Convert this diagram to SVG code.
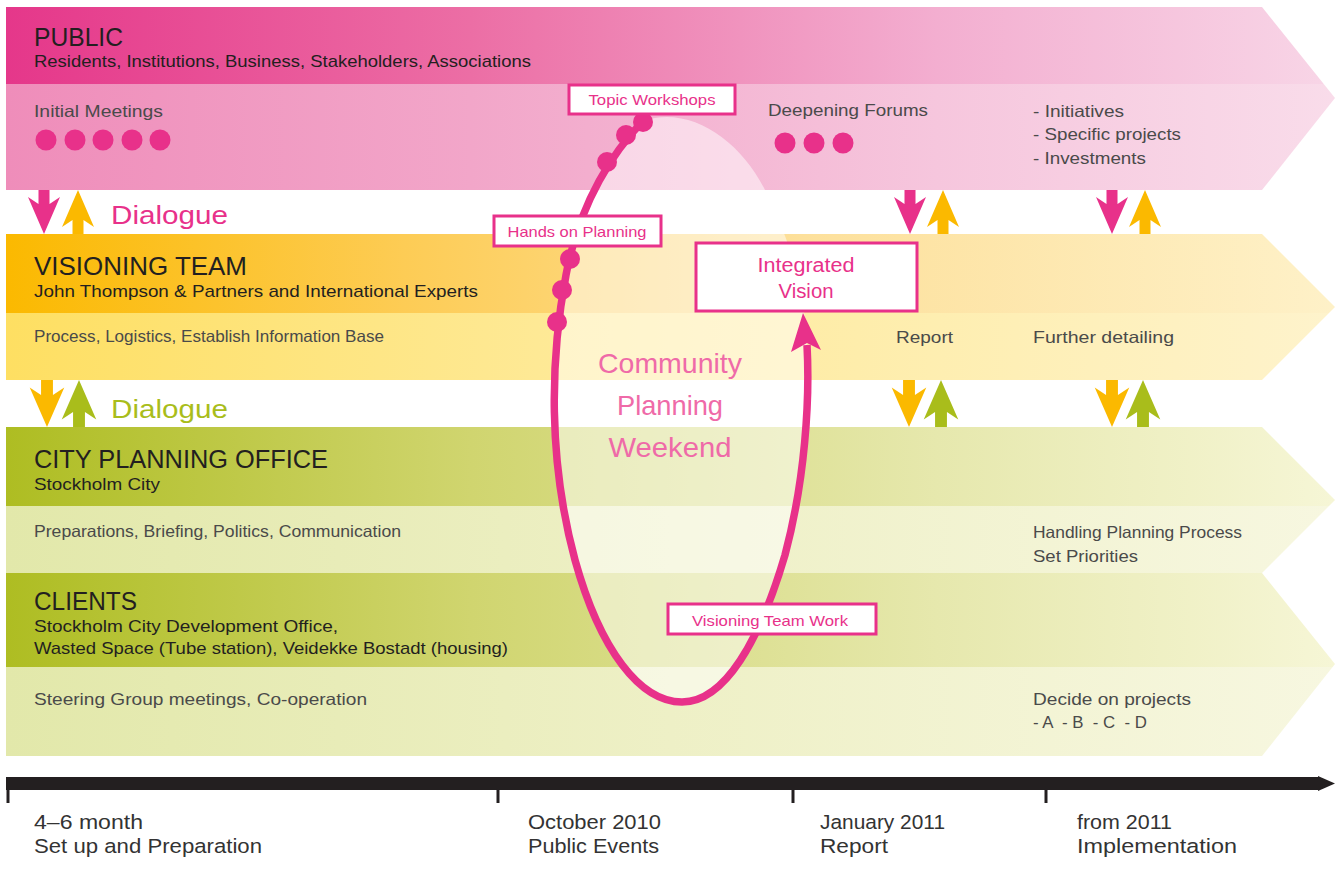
<svg xmlns="http://www.w3.org/2000/svg" width="1335" height="870" viewBox="0 0 1335 870">
<style>
text{font-family:"Liberation Sans",Arial,sans-serif}
.h{font-size:25px;fill:#231f20}
.s{font-size:17px;fill:#231f20}
.c{font-size:16.5px;fill:#4a4a4a}
.dlg{font-size:26px}
.bx{fill:#fff;stroke:#e8318a;stroke-width:3}
.bt{font-size:15px;fill:#e8318a;text-anchor:middle}
.bt.big{font-size:20px}
.tl{font-size:20.5px;fill:#333}
</style>
<defs>
<linearGradient id="pubH" gradientUnits="userSpaceOnUse" x1="6" y1="0" x2="1335" y2="0"><stop offset="0" stop-color="#e5378a"/><stop offset="0.35" stop-color="#ec6ea5"/><stop offset="0.7" stop-color="#f3aed0"/><stop offset="1" stop-color="#f8d6e7"/></linearGradient>
<linearGradient id="pubL" gradientUnits="userSpaceOnUse" x1="6" y1="0" x2="1335" y2="0"><stop offset="0" stop-color="#ef8dba"/><stop offset="0.35" stop-color="#f2a6c9"/><stop offset="0.7" stop-color="#f6c6dd"/><stop offset="1" stop-color="#f9dcea"/></linearGradient>
<linearGradient id="visH" gradientUnits="userSpaceOnUse" x1="6" y1="0" x2="1335" y2="0"><stop offset="0" stop-color="#fbb900"/><stop offset="0.3" stop-color="#fdcc55"/><stop offset="0.6" stop-color="#fde09b"/><stop offset="1" stop-color="#fef1c8"/></linearGradient>
<linearGradient id="visL" gradientUnits="userSpaceOnUse" x1="6" y1="0" x2="1335" y2="0"><stop offset="0" stop-color="#fedf62"/><stop offset="0.4" stop-color="#fee995"/><stop offset="1" stop-color="#fef3cc"/></linearGradient>
<linearGradient id="citH" gradientUnits="userSpaceOnUse" x1="6" y1="0" x2="1335" y2="0"><stop offset="0" stop-color="#aebd22"/><stop offset="0.35" stop-color="#d0d56f"/><stop offset="0.7" stop-color="#e6e8ad"/><stop offset="1" stop-color="#f6f6d6"/></linearGradient>
<linearGradient id="citL" gradientUnits="userSpaceOnUse" x1="6" y1="0" x2="1335" y2="0"><stop offset="0" stop-color="#e2e8aa"/><stop offset="0.5" stop-color="#eef0c6"/><stop offset="1" stop-color="#f7f7e0"/></linearGradient>
<clipPath id="cp1"><polygon points="6,7 1262,7 1335,98 1262,190 6,190"/></clipPath>
<clipPath id="cp2"><polygon points="6,234 1262,234 1335,307 1262,380 6,380"/></clipPath>
<clipPath id="cp3"><polygon points="6,427 1262,427 1335,500 1262,573 6,573"/></clipPath>
<clipPath id="cp4"><polygon points="6,573 1262,573 1335,664 1262,756 6,756"/></clipPath>
<path id="dn" d="M-5.5,0 H5.5 V14 L16,7 L0,44 L-16,7 L-5.5,14 Z"/>
<path id="up" d="M-5.5,44 H5.5 V30 L16,37 L0,0 L-16,37 L-5.5,30 Z"/>
</defs>

<g id="lane-public">
<g clip-path="url(#cp1)"><rect x="6" y="7" width="1330" height="77" fill="url(#pubH)"/><rect x="6" y="84" width="1330" height="106" fill="url(#pubL)"/></g>
<text class="h" x="34" y="46" textLength="89" lengthAdjust="spacingAndGlyphs">PUBLIC</text>
<text class="s" x="34" y="67" textLength="497" lengthAdjust="spacingAndGlyphs">Residents, Institutions, Business, Stakeholders, Associations</text>
<text class="c" x="34" y="117" textLength="129" lengthAdjust="spacingAndGlyphs">Initial Meetings</text>
<g fill="#e8318a"><circle cx="46" cy="140" r="10.5"/><circle cx="75" cy="140" r="10.5"/><circle cx="103" cy="140" r="10.5"/><circle cx="132" cy="140" r="10.5"/><circle cx="160" cy="140" r="10.5"/>
<circle cx="785" cy="143" r="10.5"/><circle cx="814" cy="143" r="10.5"/><circle cx="843" cy="143" r="10.5"/></g>
<text class="c" x="768" y="116" textLength="160" lengthAdjust="spacingAndGlyphs">Deepening Forums</text>
<text class="c" x="1033" y="117" textLength="91" lengthAdjust="spacingAndGlyphs">- Initiatives</text>
<text class="c" x="1033" y="140" textLength="148" lengthAdjust="spacingAndGlyphs">- Specific projects</text>
<text class="c" x="1033" y="164" textLength="113" lengthAdjust="spacingAndGlyphs">- Investments</text>
</g>

<g id="lane-visioning">
<g clip-path="url(#cp2)"><rect x="6" y="234" width="1330" height="79" fill="url(#visH)"/><rect x="6" y="313" width="1330" height="67" fill="url(#visL)"/></g>
<text class="h" x="34" y="275" textLength="213" lengthAdjust="spacingAndGlyphs">VISIONING TEAM</text>
<text class="s" x="34" y="297" textLength="444" lengthAdjust="spacingAndGlyphs">John Thompson &amp; Partners and International Experts</text>
<text class="c" x="34" y="342" textLength="350" lengthAdjust="spacingAndGlyphs">Process, Logistics, Establish Information Base</text>
<text class="c" x="896" y="343" textLength="57" lengthAdjust="spacingAndGlyphs">Report</text>
<text class="c" x="1033" y="343" textLength="141" lengthAdjust="spacingAndGlyphs">Further detailing</text>
</g>

<g id="lane-city">
<g clip-path="url(#cp3)"><rect x="6" y="427" width="1330" height="79" fill="url(#citH)"/><rect x="6" y="506" width="1330" height="67" fill="url(#citL)"/></g>
<text class="h" x="34" y="468" textLength="294" lengthAdjust="spacingAndGlyphs">CITY PLANNING OFFICE</text>
<text class="s" x="34" y="490" textLength="126" lengthAdjust="spacingAndGlyphs">Stockholm City</text>
<text class="c" x="34" y="537" textLength="367" lengthAdjust="spacingAndGlyphs">Preparations, Briefing, Politics, Communication</text>
<text class="c" x="1033" y="538" textLength="209" lengthAdjust="spacingAndGlyphs">Handling Planning Process</text>
<text class="c" x="1033" y="562" textLength="105" lengthAdjust="spacingAndGlyphs">Set Priorities</text>
</g>

<g id="lane-clients">
<g clip-path="url(#cp4)"><rect x="6" y="573" width="1330" height="94" fill="url(#citH)"/><rect x="6" y="667" width="1330" height="89" fill="url(#citL)"/></g>
<text class="h" x="34" y="610" textLength="103" lengthAdjust="spacingAndGlyphs">CLIENTS</text>
<text class="s" x="34" y="632" textLength="304" lengthAdjust="spacingAndGlyphs">Stockholm City Development Office,</text>
<text class="s" x="34" y="654" textLength="474" lengthAdjust="spacingAndGlyphs">Wasted Space (Tube station), Veidekke Bostadt (housing)</text>
<text class="c" x="34" y="705" textLength="333" lengthAdjust="spacingAndGlyphs">Steering Group meetings, Co-operation</text>
<text class="c" x="1033" y="705" textLength="158" lengthAdjust="spacingAndGlyphs">Decide on projects</text>
<text class="c" x="1033" y="728" textLength="114" lengthAdjust="spacingAndGlyphs" xml:space="preserve">- A  - B  - C  - D</text>
</g>

<g id="dialogue-arrows">
<use href="#dn" transform="translate(44,190)" fill="#e8318a"/>
<use href="#up" transform="translate(78,190)" fill="#fbb900"/>
<use href="#dn" transform="translate(910,190)" fill="#e8318a"/>
<use href="#up" transform="translate(943,190)" fill="#fbb900"/>
<use href="#dn" transform="translate(1112,190)" fill="#e8318a"/>
<use href="#up" transform="translate(1145,190)" fill="#fbb900"/>
<use href="#dn" transform="translate(47,380) scale(1.08,1.068)" fill="#fbb900"/>
<use href="#up" transform="translate(79,380) scale(1.08,1.068)" fill="#a9bd1b"/>
<use href="#dn" transform="translate(909,380) scale(1.08,1.068)" fill="#fbb900"/>
<use href="#up" transform="translate(941,380) scale(1.08,1.068)" fill="#a9bd1b"/>
<use href="#dn" transform="translate(1112,380) scale(1.08,1.068)" fill="#fbb900"/>
<use href="#up" transform="translate(1143,380) scale(1.08,1.068)" fill="#a9bd1b"/>
<text class="dlg" x="111" y="224" fill="#e8318a" textLength="117" lengthAdjust="spacingAndGlyphs">Dialogue</text>
<text class="dlg" x="111" y="418" fill="#a9bd1b" textLength="117" lengthAdjust="spacingAndGlyphs">Dialogue</text>
</g>

<g id="community-weekend">
<path d="M643,121 C615,150 580,200 566,275 C550,360 548,460 575,560 C600,650 640,702 682,702 C725,702 760,640 785,555 C805,480 810,400 807,345 C805,290 790,240 765,190 C740,140 690,105 643,121 Z" fill="#fff" fill-opacity="0.5"/>
<g fill="#ef6aa8" font-size="28" text-anchor="middle">
<text x="670" y="373" textLength="144" lengthAdjust="spacingAndGlyphs">Community</text>
<text x="670" y="415" textLength="106" lengthAdjust="spacingAndGlyphs">Planning</text>
<text x="670" y="457" textLength="123" lengthAdjust="spacingAndGlyphs">Weekend</text>
</g>
</g>

<g id="connectors">
<path d="M643,121 C615,150 580,200 566,275 C550,360 548,460 575,560 C600,650 640,702 682,702 C725,702 760,640 785,555 C805,480 810,400 807,345" fill="none" stroke="#e8318a" stroke-width="7.5"/>
<polygon points="803,313 821,350 807,343 791,352" fill="#e8318a"/>
<g fill="#e8318a"><circle cx="643" cy="122" r="10"/><circle cx="626" cy="135" r="10"/><circle cx="607" cy="162" r="10"/><circle cx="570" cy="259" r="10"/><circle cx="562" cy="290" r="10"/><circle cx="557" cy="322" r="10"/></g>
</g>

<g id="box-topic"><rect class="bx" x="569" y="85" width="166" height="29"/><text class="bt" x="652" y="105" textLength="127" lengthAdjust="spacingAndGlyphs">Topic Workshops</text></g>
<g id="box-hands"><rect class="bx" x="494" y="216" width="167" height="30"/><text class="bt" x="577" y="237" textLength="139" lengthAdjust="spacingAndGlyphs">Hands on Planning</text></g>
<g id="box-vision"><rect class="bx" x="696" y="243" width="221" height="68"/><text class="bt big" x="806" y="272" textLength="97" lengthAdjust="spacingAndGlyphs">Integrated</text><text class="bt big" x="806" y="298" textLength="55" lengthAdjust="spacingAndGlyphs">Vision</text></g>
<g id="box-vtw"><rect class="bx" x="668" y="604" width="208" height="30"/><text class="bt" x="770" y="626" textLength="156" lengthAdjust="spacingAndGlyphs">Visioning Team Work</text></g>

<g id="timeline">
<rect x="6" y="777" width="1314" height="13" fill="#231f20"/>
<polygon points="1318,776 1335,783.5 1318,791" fill="#231f20"/>
<g stroke="#231f20" stroke-width="3"><line x1="8" y1="789" x2="8" y2="803"/><line x1="498" y1="789" x2="498" y2="803"/><line x1="793" y1="789" x2="793" y2="803"/><line x1="1046" y1="789" x2="1046" y2="803"/></g>
<text class="tl" x="34" y="829" textLength="109" lengthAdjust="spacingAndGlyphs">4–6 month</text>
<text class="tl" x="34" y="853" textLength="228" lengthAdjust="spacingAndGlyphs">Set up and Preparation</text>
<text class="tl" x="528" y="829" textLength="133" lengthAdjust="spacingAndGlyphs">October 2010</text>
<text class="tl" x="528" y="853" textLength="131" lengthAdjust="spacingAndGlyphs">Public Events</text>
<text class="tl" x="820" y="829" textLength="125" lengthAdjust="spacingAndGlyphs">January 2011</text>
<text class="tl" x="820" y="853" textLength="68" lengthAdjust="spacingAndGlyphs">Report</text>
<text class="tl" x="1077" y="829" textLength="95" lengthAdjust="spacingAndGlyphs">from 2011</text>
<text class="tl" x="1077" y="853" textLength="160" lengthAdjust="spacingAndGlyphs">Implementation</text>
</g>
</svg>
